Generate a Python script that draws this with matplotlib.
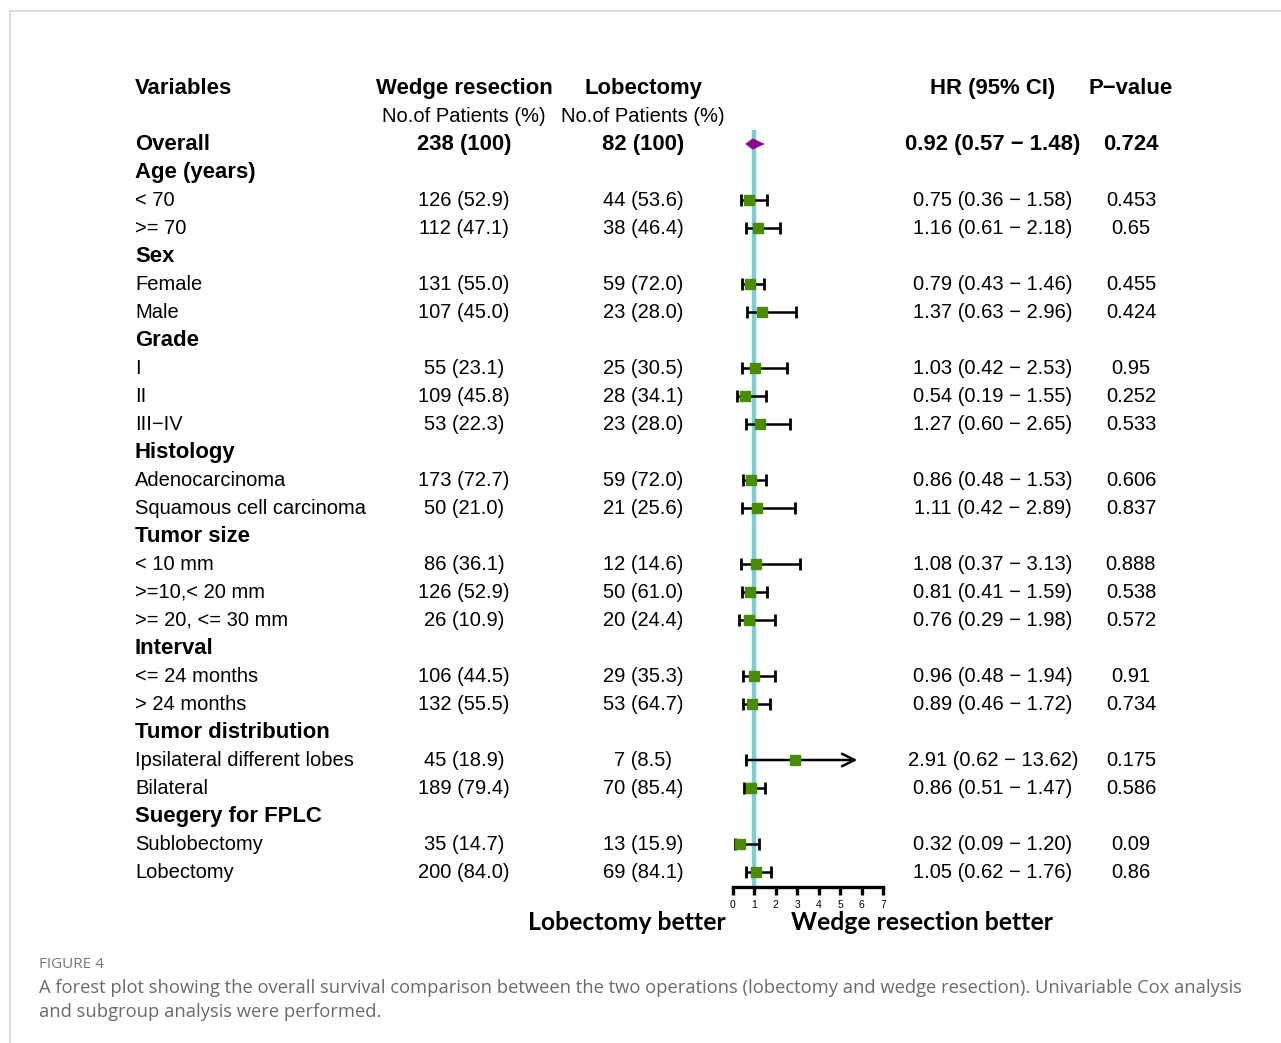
import numpy as np
import matplotlib.pyplot as plt
from matplotlib.transforms import blended_transform_factory
from matplotlib.patches import Rectangle

# --- data ---
labels = ["Overall", "Age (years)", "< 70", ">= 70", "Sex", "Female", "Male",
          "Grade", "I", "II", "III\u2212IV", "Histology", "Adenocarcinoma",
          "Squamous cell carcinoma", "Tumor size", "< 10 mm", ">=10,< 20 mm",
          ">= 20, <= 30 mm", "Interval", "<= 24 months", "> 24 months",
          "Tumor distribution", "Ipsilateral different lobes", "Bilateral",
          "Suegery for FPLC", "Sublobectomy", "Lobectomy"]
wedge = ["238 (100)", "", "126 (52.9)", "112 (47.1)", "", "131 (55.0)", "107 (45.0)",
         "", "55 (23.1)", "109 (45.8)", "53 (22.3)", "", "173 (72.7)", "50 (21.0)",
         "", "86 (36.1)", "126 (52.9)", "26 (10.9)", "", "106 (44.5)", "132 (55.5)",
         "", "45 (18.9)", "189 (79.4)", "", "35 (14.7)", "200 (84.0)"]
lobe = ["82 (100)", "", "44 (53.6)", "38 (46.4)", "", "59 (72.0)", "23 (28.0)",
        "", "25 (30.5)", "28 (34.1)", "23 (28.0)", "", "59 (72.0)", "21 (25.6)",
        "", "12 (14.6)", "50 (61.0)", "20 (24.4)", "", "29 (35.3)", "53 (64.7)",
        "", "7 (8.5)", "70 (85.4)", "", "13 (15.9)", "69 (84.1)"]
nan = np.nan
hr = [0.92, nan, 0.75, 1.16, nan, 0.79, 1.37, nan, 1.03, 0.54, 1.27, nan, 0.86, 1.11,
      nan, 1.08, 0.81, 0.76, nan, 0.96, 0.89, nan, 2.91, 0.86, nan, 0.32, 1.05]
lo = [0.57, nan, 0.36, 0.61, nan, 0.43, 0.63, nan, 0.42, 0.19, 0.60, nan, 0.48, 0.42,
      nan, 0.37, 0.41, 0.29, nan, 0.48, 0.46, nan, 0.62, 0.51, nan, 0.09, 0.62]
hi = [1.48, nan, 1.58, 2.18, nan, 1.46, 2.96, nan, 2.53, 1.55, 2.65, nan, 1.53, 2.89,
      nan, 3.13, 1.59, 1.98, nan, 1.94, 1.72, nan, 13.62, 1.47, nan, 1.20, 1.76]
pval = ["0.724", "", "0.453", "0.65", "", "0.455", "0.424", "", "0.95", "0.252", "0.533",
        "", "0.606", "0.837", "", "0.888", "0.538", "0.572", "", "0.91", "0.734", "",
        "0.175", "0.586", "", "0.09", "0.86"]
xticks = [0, 1, 2, 3, 4, 5, 6, 7]

W, H = 1281, 1043
fig = plt.figure(figsize=(W / 100, H / 100), dpi=100)
plt.rcParams['font.family'] = ['Liberation Sans', 'DejaVu Sans']

# frame of the page
fig.patches.append(Rectangle((10 / W, -0.1), 1.2, 1 - 11 / H + 0.1, transform=fig.transFigure,
                             fill=False, edgecolor='#d4d4d4', lw=1.2))

# forest axes: row i sits at 88 + 28*i px, data rows start at i=2
top_px, bot_px = 74, 887
ax = fig.add_axes([733 / W, 1 - bot_px / H, 150 / W, (bot_px - top_px) / H])
ax.set_xlim(0, 7)
y_bot = (bot_px - 88) / 28
y_top = (top_px - 88) / 28
ax.set_ylim(y_bot, y_top)
ax.set_facecolor('none')
for s in ['top', 'left', 'right']:
    ax.spines[s].set_visible(False)
ax.spines['bottom'].set_linewidth(2.4)
ax.set_yticks([])
ax.set_xticks(xticks)
ax.tick_params(axis='x', direction='out', length=6, width=2.4, labelsize=7.5,
               pad=3, colors='black')

rows = np.arange(len(labels)) + 2
ax.vlines(1, 1.5, y_bot, color='#7fcdd3', lw=3.2, zorder=1)

green = '#4a8c06'
xmax_draw = 5.8
for i, r in enumerate(rows):
    if np.isnan(hr[i]):
        continue
    if i == 0:
        ax.fill([lo[i], hr[i], hi[i], hr[i]], [r, r - 0.2, r, r + 0.2],
                color='#8b0a8b', zorder=3, lw=0)
        continue
    right = min(hi[i], xmax_draw)
    if hi[i] > 7:
        ax.annotate('', xy=(right, r), xytext=(lo[i], r),
                    arrowprops=dict(arrowstyle='->,head_length=0.9,head_width=0.45',
                                    lw=1.8, color='black', shrinkA=0, shrinkB=0), zorder=2)
        ax.plot([lo[i]], [r], marker='|', ms=9, mew=2, color='black', zorder=2)
    else:
        ax.hlines(r, lo[i], right, color='black', lw=1.8, zorder=2)
        ax.plot([lo[i], right], [r, r], ls='none', marker='|', ms=9, mew=2,
                color='black', zorder=2)
    ax.plot(hr[i], r, marker='s', ms=7.5, color=green, mec=green, zorder=3)

# text columns
tr = blended_transform_factory(fig.transFigure, ax.transData)
fs = 14.5
fsb = 15.9
kw = dict(transform=tr, va='center', clip_on=False)

def fx(px):
    return px / W

ax.text(fx(135), 0, "Variables", ha='left', fontweight='bold', fontsize=fsb, **kw)
ax.text(fx(464), 0, "Wedge resection", ha='center', fontweight='bold', fontsize=fsb, **kw)
ax.text(fx(643), 0, "Lobectomy", ha='center', fontweight='bold', fontsize=fsb, **kw)
ax.text(fx(993), 0, "HR (95% CI)", ha='center', fontweight='bold', fontsize=fsb, **kw)
ax.text(fx(1131), 0, "P\u2212value", ha='center', fontweight='bold', fontsize=fsb, **kw)
ax.text(fx(464), 1, "No.of Patients (%)", ha='center', fontsize=fs, **kw)
ax.text(fx(643), 1, "No.of Patients (%)", ha='center', fontsize=fs, **kw)

for i, r in enumerate(rows):
    group = np.isnan(hr[i])
    bold = group or i == 0
    tkw = dict(fontweight='bold', fontsize=fsb) if bold else dict(fontsize=fs)
    ax.text(fx(135), r, labels[i], ha='left', **tkw, **kw)
    if group:
        continue
    ax.text(fx(464), r, wedge[i], ha='center', **tkw, **kw)
    ax.text(fx(643), r, lobe[i], ha='center', **tkw, **kw)
    ax.text(fx(993), r, f"{hr[i]:.2f} ({lo[i]:.2f} \u2212 {hi[i]:.2f})",
            ha='center', **tkw, **kw)
    ax.text(fx(1131), r, pval[i], ha='center', **tkw, **kw)

fig.text(fx(627), 1 - 923 / H, "Lobectomy better", ha='center', va='center',
         fontsize=17.8, fontweight='bold', family=['Lato', 'DejaVu Sans'])
fig.text(fx(922), 1 - 923 / H, "Wedge resection better", ha='center', va='center',
         fontsize=17.8, fontweight='bold', family=['Lato', 'DejaVu Sans'])

# caption
fig.text(fx(39), 1 - 965 / H, "FIGURE 4", ha='left', va='center', fontsize=11,
         color='#777777', family=['Open Sans', 'DejaVu Sans'])
fig.text(fx(39), 1 - 988 / H,
         "A forest plot showing the overall survival comparison between the two operations "
         "(lobectomy and wedge resection). Univariable Cox analysis",
         ha='left', va='center', fontsize=13.2, color='#6a6a6a',
         family=['Open Sans', 'DejaVu Sans'])
fig.text(fx(39), 1 - 1012 / H, "and subgroup analysis were performed.",
         ha='left', va='center', fontsize=13.2, color='#6a6a6a',
         family=['Open Sans', 'DejaVu Sans'])

fig.savefig('out.png', dpi=100)
